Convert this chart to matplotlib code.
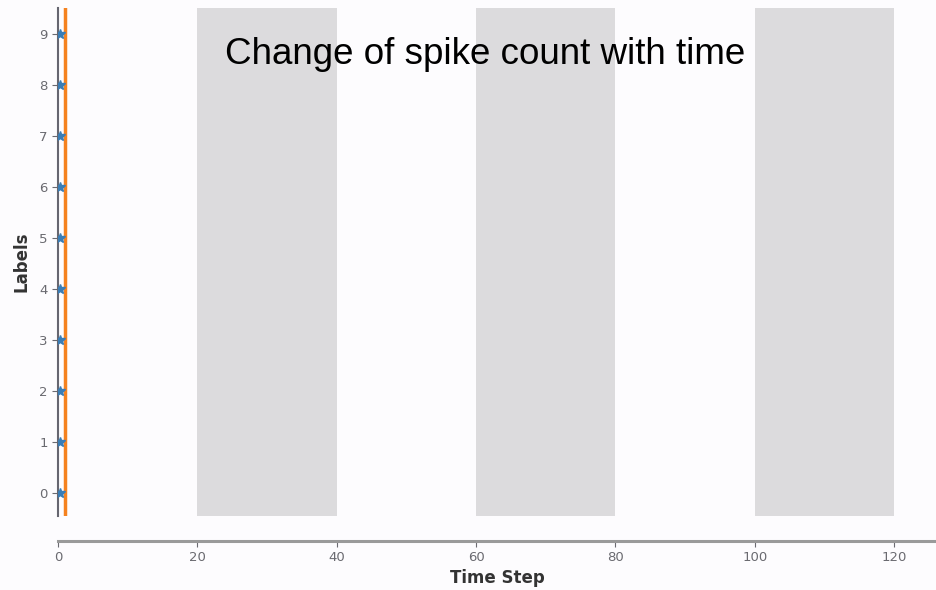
import numpy as np
import matplotlib; matplotlib.use("Agg")
import matplotlib.pyplot as plt

# spike raster for labels 0-9 over time, with alternating presentation windows
labels = list(range(10))
spike_times = [0.3] * 10          # first spike of each label
current_step = 1                  # cursor for the current time step
windows = [(20, 40), (60, 80), (100, 120)]
xticks = [0, 20, 40, 60, 80, 100, 120]

fig = plt.figure(figsize=(9.36, 5.9), dpi=100, facecolor="#fdfcfe")
ax = fig.add_axes([58 / 936, 74 / 590, 1 - 58 / 936, 508 / 590])
ax.set_facecolor("#fdfcfe")

for a, b in windows:
    ax.axvspan(a, b, color="#dcdbdd", lw=0, zorder=0)
ax.axvline(current_step, color="#f5821f", lw=2.5, zorder=3)
ax.plot(spike_times, labels, ls="none", marker="*", ms=7, color="#3a7db5", zorder=4)

ax.set_xlim(0, 126)
ax.set_ylim(-0.45, 9.5)
ax.set_xticks(xticks)
ax.set_yticks(labels)
for s in ("top", "right"):
    ax.spines[s].set_visible(False)
ax.spines["bottom"].set_position(("outward", 18))
ax.spines["bottom"].set_color("#9a9a9a")
ax.spines["bottom"].set_linewidth(2.2)
ax.spines["left"].set_color("#666670")
ax.spines["left"].set_linewidth(1.5)
ax.tick_params(colors="#6a6a70", labelsize=9.5, length=4, width=0.8)
ax.set_xlabel("Time Step", fontsize=12, fontweight="bold", color="#333333", labelpad=3)
ax.set_ylabel("Labels", fontsize=12, fontweight="bold", color="#333333", labelpad=6)

fig.text(485 / 936, 1 - 55 / 590, "Change of spike count with time", fontsize=26.5,
         family="Liberation Sans", color="black", ha="center", va="center")

fig.savefig("out.png", dpi=100, facecolor=fig.get_facecolor())
